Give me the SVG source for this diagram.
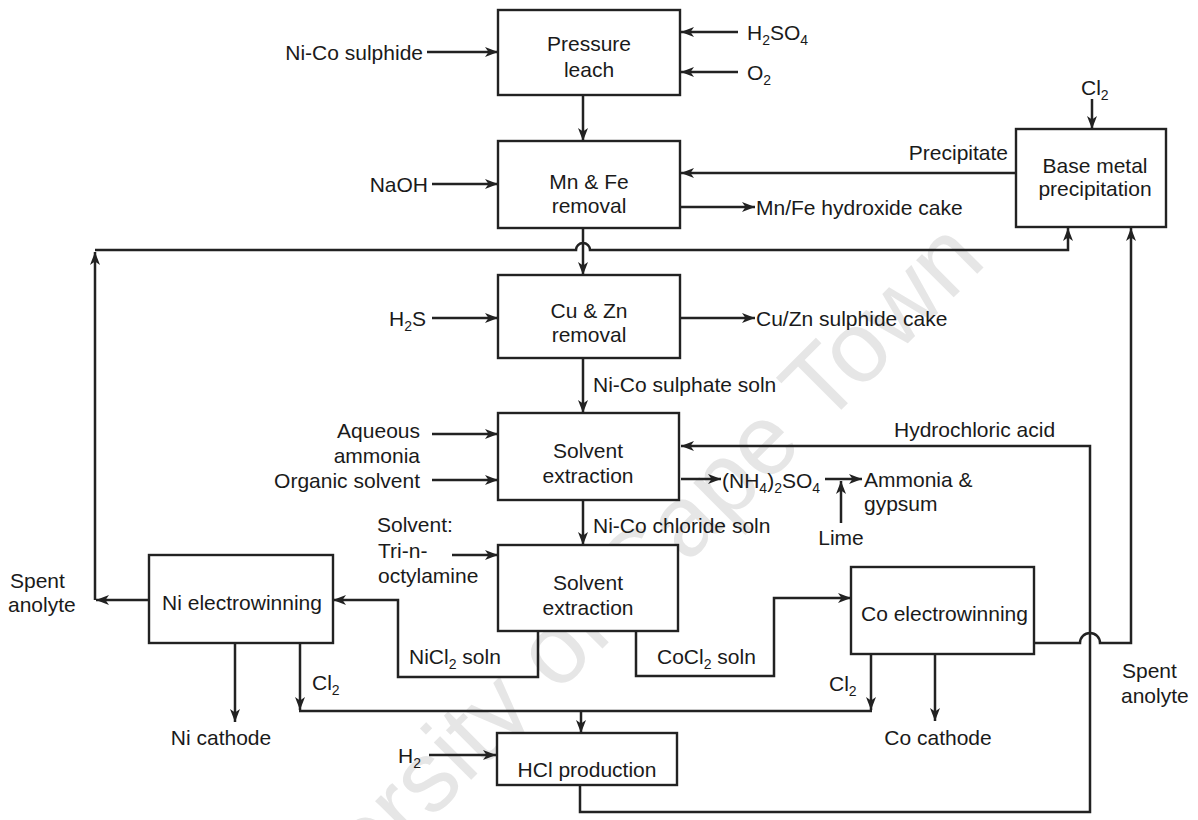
<svg xmlns="http://www.w3.org/2000/svg" width="1198" height="820" viewBox="0 0 1198 820">
  <defs>
    <marker id="ah" viewBox="0 0 13 10" refX="13" refY="5" markerWidth="13" markerHeight="10" markerUnits="userSpaceOnUse" orient="auto">
      <path d="M0,0 L13,5 L0,10 L3.5,5 Z" fill="#222"/>
    </marker>
    <style>
      .box { fill: #fff; stroke: #222; stroke-width: 2.4; }
      .ln { fill: none; stroke: #222; stroke-width: 2.5; }
      .ar { fill: none; stroke: #222; stroke-width: 2.5; marker-end: url(#ah); }
      .t { font-family: "Liberation Sans", Arial, sans-serif; font-size: 21px; fill: #1a1a1a; }
      .c { text-anchor: middle; }
      .e { text-anchor: end; }
      .sub { font-size: 14px; }
      .wm { font-family: "Liberation Sans", Arial, sans-serif; font-size: 100px; fill: #e6e6e6; text-anchor: end; }
    </style>
  </defs>

  <rect width="1198" height="820" fill="#fff"/>

  <!-- background watermark -->
  <text class="wm" x="988" y="263" transform="rotate(-45 988 263)">University of Cape Town</text>

  <!-- connectors -->
  <g id="connectors">
    <!-- feeds to pressure leach -->
    <path class="ar" d="M427,52 L498,52"/>
    <path class="ar" d="M738,32 L681,32"/>
    <path class="ar" d="M738,72 L681,72"/>
    <path class="ar" d="M583,95 L583,141"/>
    <!-- Mn & Fe removal -->
    <path class="ar" d="M432,184 L498,184"/>
    <path class="ar" d="M1016,173 L681,173"/>
    <path class="ar" d="M680,207 L755,207"/>
    <path class="ar" d="M1092,99 L1092,129"/>
    <path class="ar" d="M583,228 L583,275"/>
    <!-- recycle of Ni spent anolyte to base metal precipitation -->
    <path class="ar" d="M149,600 L96,600"/>
    <path class="ar" d="M95,600 L95,252"/>
    <path class="ar" d="M95,250 L576,250 A7,7 0 0 1 590,250 L1068,250 L1068,228"/>
    <!-- Cu & Zn removal -->
    <path class="ar" d="M432,318 L498,318"/>
    <path class="ar" d="M680,318 L755,318"/>
    <path class="ar" d="M583,358 L583,413"/>
    <!-- solvent extraction 1 -->
    <path class="ar" d="M432,434 L498,434"/>
    <path class="ar" d="M432,480 L498,480"/>
    <path class="ar" d="M681,479 L721,479"/>
    <path class="ar" d="M825,479 L862,479"/>
    <path class="ar" d="M841,523 L841,481"/>
    <path class="ar" d="M583,500 L583,545"/>
    <!-- HCl recycle -->
    <path class="ar" d="M580,785 L580,812 L1090,812 L1090,446 L681,446"/>
    <!-- solvent extraction 2 -->
    <path class="ar" d="M452,555 L498,555"/>
    <path class="ar" d="M538,631 L538,677 L398,677 L398,600 L333,600"/>
    <path class="ar" d="M636,631 L636,676 L774,676 L774,598 L851,598"/>
    <!-- electrowinning products -->
    <path class="ar" d="M235,643 L235,722"/>
    <path class="ar" d="M300,643 L300,710"/>
    <path class="ln" d="M299,711 L872,711"/>
    <path class="ar" d="M871,654 L871,710"/>
    <path class="ar" d="M935,654 L935,721"/>
    <path class="ar" d="M581,711 L581,733"/>
    <path class="ar" d="M429,755 L496,755"/>
    <!-- Co spent anolyte to base metal precipitation -->
    <path class="ar" d="M1034,643 L1080,643 A10,10 0 0 1 1100,643 L1131,643 L1131,228"/>
  </g>

  <g id="pressure-leach">
    <rect class="box" x="498" y="10" width="182" height="85"/>
    <text class="t c" x="589" y="51">Pressure</text>
    <text class="t c" x="589" y="77">leach</text>
  </g>

  <g id="mn-fe-removal">
    <rect class="box" x="498" y="141" width="182" height="87"/>
    <text class="t c" x="589" y="189">Mn &amp; Fe</text>
    <text class="t c" x="589" y="213">removal</text>
  </g>

  <g id="base-metal-precipitation">
    <rect class="box" x="1016" y="129" width="150" height="98"/>
    <text class="t c" x="1095" y="173">Base metal</text>
    <text class="t c" x="1095" y="196">precipitation</text>
  </g>

  <g id="cu-zn-removal">
    <rect class="box" x="498" y="275" width="182" height="83"/>
    <text class="t c" x="589" y="318">Cu &amp; Zn</text>
    <text class="t c" x="589" y="342">removal</text>
  </g>

  <g id="solvent-extraction-1">
    <rect class="box" x="498" y="413" width="181" height="87"/>
    <text class="t c" x="588" y="458">Solvent</text>
    <text class="t c" x="588" y="483">extraction</text>
  </g>

  <g id="solvent-extraction-2">
    <rect class="box" x="498" y="545" width="180" height="86"/>
    <text class="t c" x="588" y="590">Solvent</text>
    <text class="t c" x="588" y="615">extraction</text>
  </g>

  <g id="ni-electrowinning">
    <rect class="box" x="149" y="555" width="184" height="88"/>
    <text class="t c" x="242" y="610">Ni electrowinning</text>
  </g>

  <g id="co-electrowinning">
    <rect class="box" x="851" y="567" width="183" height="87"/>
    <text class="t" x="861" y="621">Co electrowinning</text>
  </g>

  <g id="hcl-production">
    <rect class="box" x="497" y="733" width="180" height="52"/>
    <text class="t c" x="587" y="777">HCl production</text>
  </g>

  <!-- stream labels -->
  <g id="labels">
    <text class="t e" x="423" y="60">Ni-Co sulphide</text>
    <text class="t" x="747" y="40">H<tspan class="sub" dy="5">2</tspan><tspan dy="-5">SO</tspan><tspan class="sub" dy="5">4</tspan></text>
    <text class="t" x="747" y="80">O<tspan class="sub" dy="5">2</tspan></text>
    <text class="t e" x="428" y="192">NaOH</text>
    <text class="t e" x="1008" y="160">Precipitate</text>
    <text class="t" x="756" y="215">Mn/Fe hydroxide cake</text>
    <text class="t" x="1081" y="95">Cl<tspan class="sub" dy="5">2</tspan></text>
    <text class="t e" x="426" y="326">H<tspan class="sub" dy="5">2</tspan><tspan dy="-5">S</tspan></text>
    <text class="t" x="756" y="326">Cu/Zn sulphide cake</text>
    <text class="t" x="593" y="392">Ni-Co sulphate soln</text>
    <text class="t e" x="420" y="438">Aqueous</text>
    <text class="t e" x="420" y="463">ammonia</text>
    <text class="t e" x="420" y="488">Organic solvent</text>
    <text class="t" x="894" y="437">Hydrochloric acid</text>
    <text class="t" x="722" y="488">(NH<tspan class="sub" dy="5">4</tspan><tspan dy="-5">)</tspan><tspan class="sub" dy="5">2</tspan><tspan dy="-5">SO</tspan><tspan class="sub" dy="5">4</tspan></text>
    <text class="t" x="864" y="487">Ammonia &amp;</text>
    <text class="t" x="864" y="511">gypsum</text>
    <text class="t c" x="841" y="545">Lime</text>
    <text class="t" x="593" y="533">Ni-Co chloride soln</text>
    <text class="t" x="377" y="532">Solvent:</text>
    <text class="t" x="378" y="558">Tri-n-</text>
    <text class="t" x="378" y="583">octylamine</text>
    <text class="t" x="10" y="588">Spent</text>
    <text class="t" x="8" y="612">anolyte</text>
    <text class="t" x="409" y="664">NiCl<tspan class="sub" dy="5">2</tspan><tspan dy="-5"> soln</tspan></text>
    <text class="t" x="657" y="664">CoCl<tspan class="sub" dy="5">2</tspan><tspan dy="-5"> soln</tspan></text>
    <text class="t" x="312" y="690">Cl<tspan class="sub" dy="5">2</tspan></text>
    <text class="t" x="829" y="691">Cl<tspan class="sub" dy="5">2</tspan></text>
    <text class="t c" x="221" y="745">Ni cathode</text>
    <text class="t c" x="938" y="745">Co cathode</text>
    <text class="t" x="398" y="763">H<tspan class="sub" dy="5">2</tspan></text>
    <text class="t" x="1122" y="678">Spent</text>
    <text class="t" x="1121" y="703">anolyte</text>
  </g>
</svg>
